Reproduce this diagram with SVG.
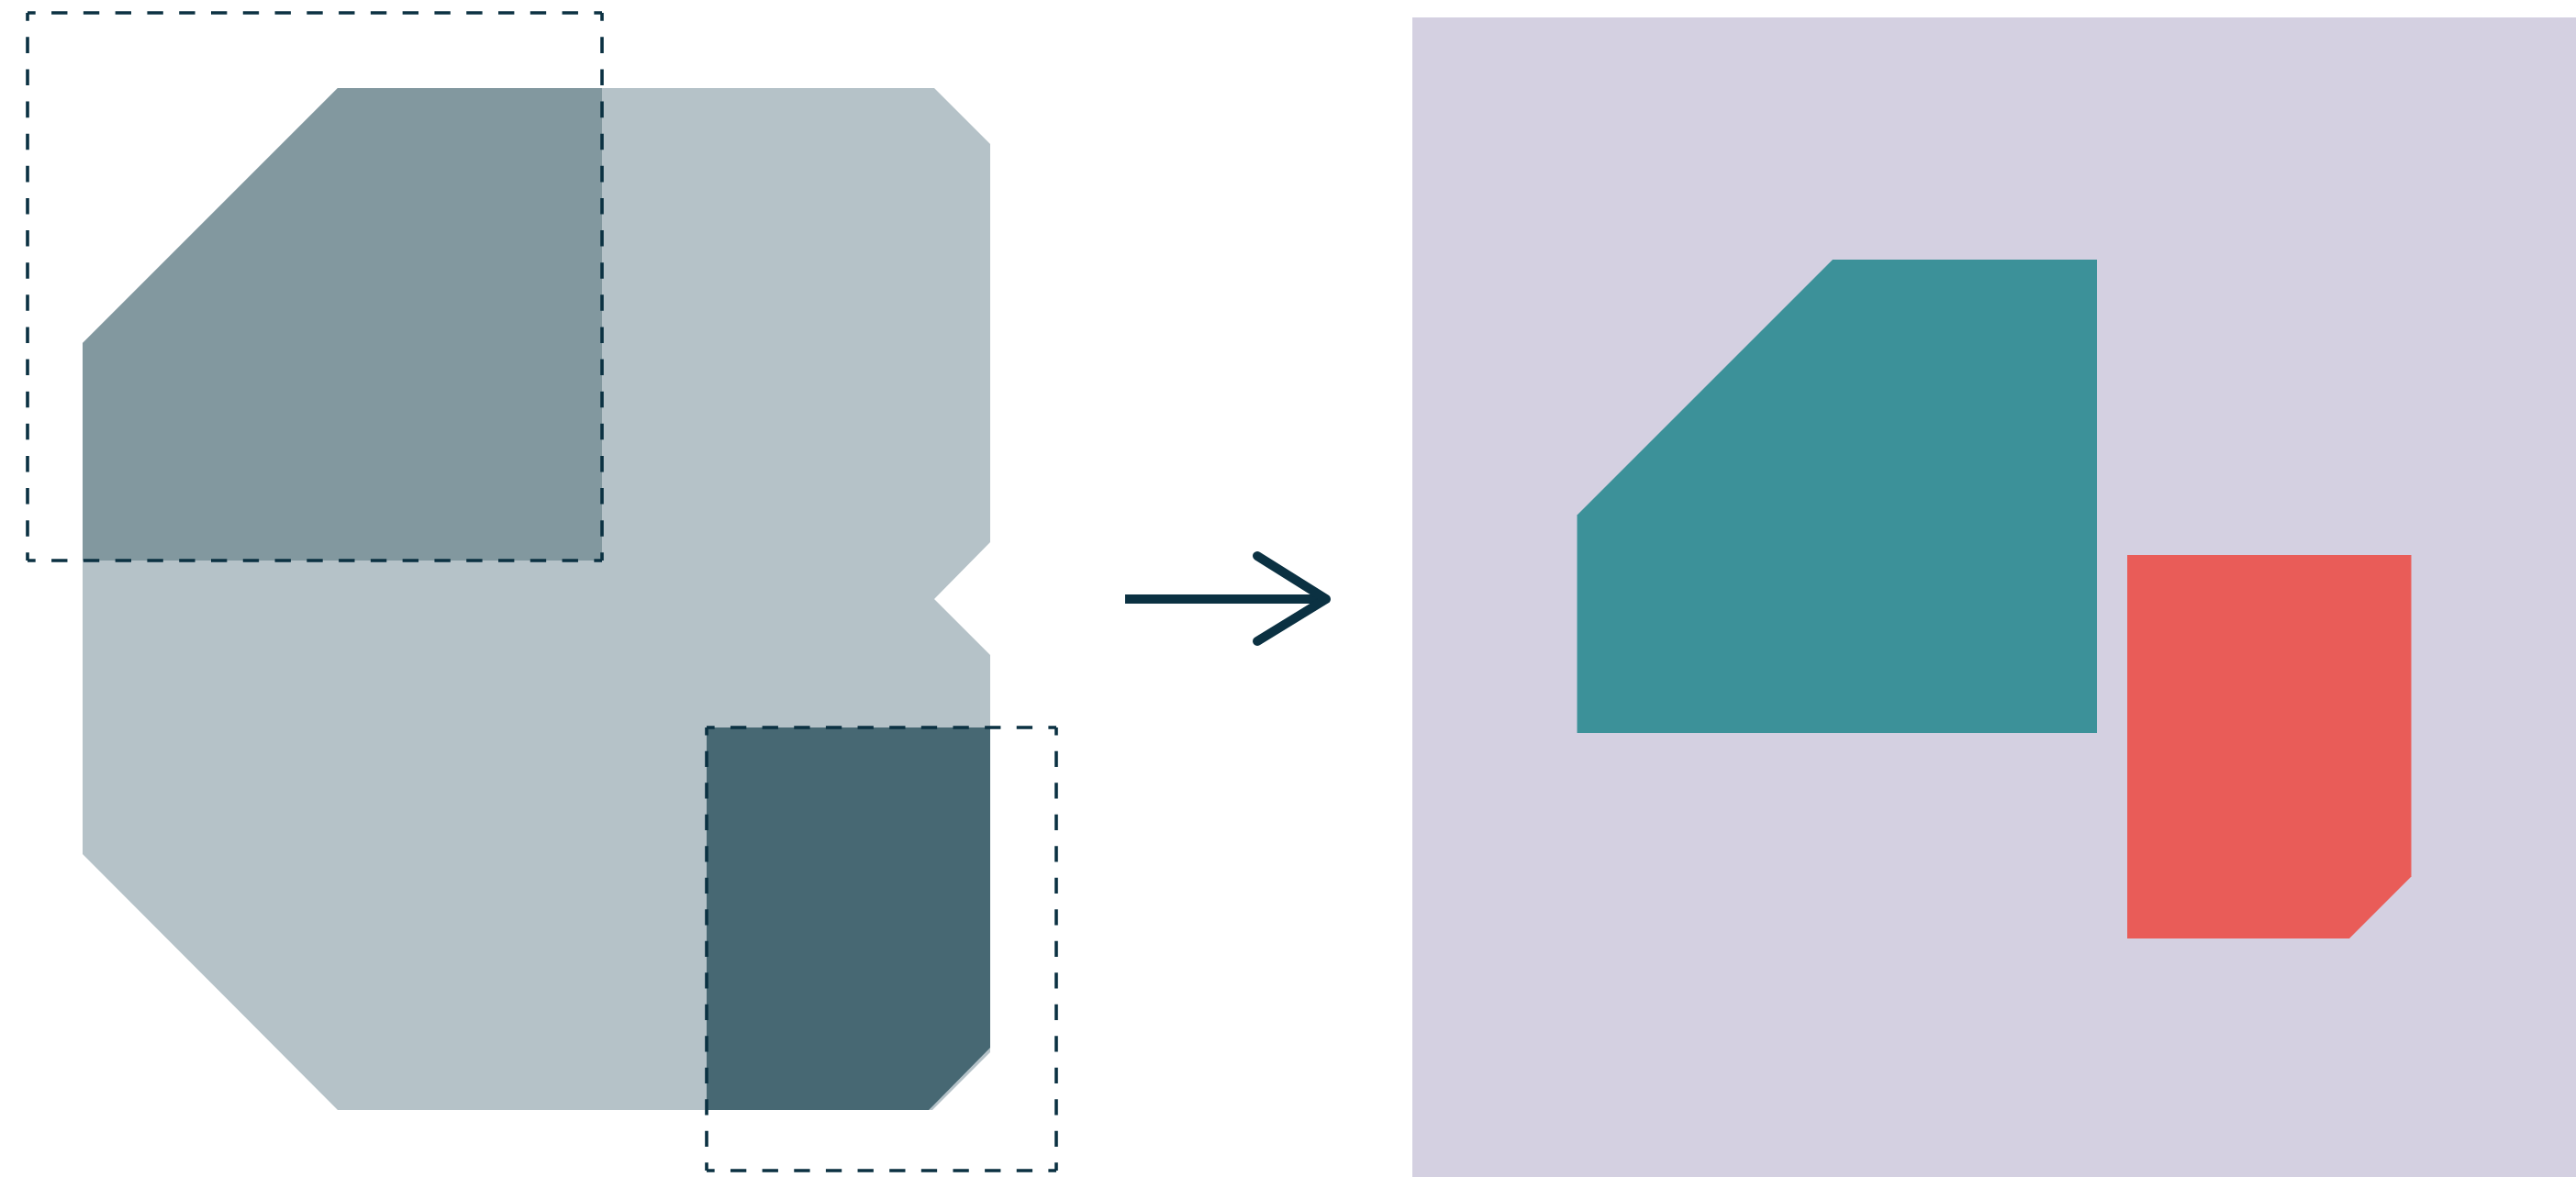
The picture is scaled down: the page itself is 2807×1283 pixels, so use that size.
<svg xmlns="http://www.w3.org/2000/svg" width="2807" height="1283" viewBox="0 0 2807 1283">
  <style>
    .frame { fill: none; stroke: #0b3142; stroke-width: 3.6; stroke-linecap: butt; }
    .arrow { fill: none; stroke: #0b3142; stroke-width: 10; stroke-linejoin: round; }
  </style>
  <rect x="0" y="0" width="2807" height="1283" fill="#ffffff"/>
  <g id="source">
    <path id="source-outline" d="M90,374 L368,96 L1018,96 L1079,157 L1079,591 L1018,653 L1079,714 L1079,1147 L1016,1210 L368,1210 L90,931 Z" fill="#b5c2c8"/>
    <path id="source-topleft" d="M90,374 L368,96 L656,96 L656,611 L90,611 Z" fill="#82989f"/>
    <path id="source-bottomright" d="M770,793 L1079,793 L1079,1142 L1012,1210 L770,1210 Z" fill="#476873"/>
    <g id="crop-topleft">
      <line class="frame" x1="30" y1="14" x2="656" y2="14" stroke-dasharray="17.39 17.39" stroke-dashoffset="8.7"/>
      <line class="frame" x1="30" y1="611" x2="656" y2="611" stroke-dasharray="17.39 17.39" stroke-dashoffset="8.7"/>
      <line class="frame" x1="30" y1="14" x2="30" y2="611" stroke-dasharray="17.56 17.56" stroke-dashoffset="8.78"/>
      <line class="frame" x1="656" y1="14" x2="656" y2="611" stroke-dasharray="17.56 17.56" stroke-dashoffset="8.78"/>
    </g>
    <g id="crop-bottomright">
      <line class="frame" x1="770" y1="793" x2="1151" y2="793" stroke-dasharray="17.32 17.32" stroke-dashoffset="8.66"/>
      <line class="frame" x1="770" y1="1276" x2="1151" y2="1276" stroke-dasharray="17.32 17.32" stroke-dashoffset="8.66"/>
      <line class="frame" x1="770" y1="793" x2="770" y2="1276" stroke-dasharray="17.25 17.25" stroke-dashoffset="8.63"/>
      <line class="frame" x1="1151" y1="793" x2="1151" y2="1276" stroke-dasharray="17.25 17.25" stroke-dashoffset="8.63"/>
    </g>
  </g>
  <g id="connectors">
    <line class="arrow" x1="1226" y1="653" x2="1442" y2="653" stroke-linecap="butt"/>
    <polyline class="arrow" points="1370,606 1445,653 1370,699" stroke-linecap="round"/>
  </g>
  <g id="result">
    <rect id="result-panel" x="1539" y="19" width="1268" height="1264" fill="#d4d0e1"/>
    <path id="result-teal" d="M1718.5,561.5 L1997,283 L2285,283 L2285,799 L1718.5,799 Z" fill="#3c9199"/>
    <path id="result-red" d="M2318,605 L2627.5,605 L2627.5,955.5 L2560,1023 L2318,1023 Z" fill="#e95c58"/>
  </g>
</svg>
